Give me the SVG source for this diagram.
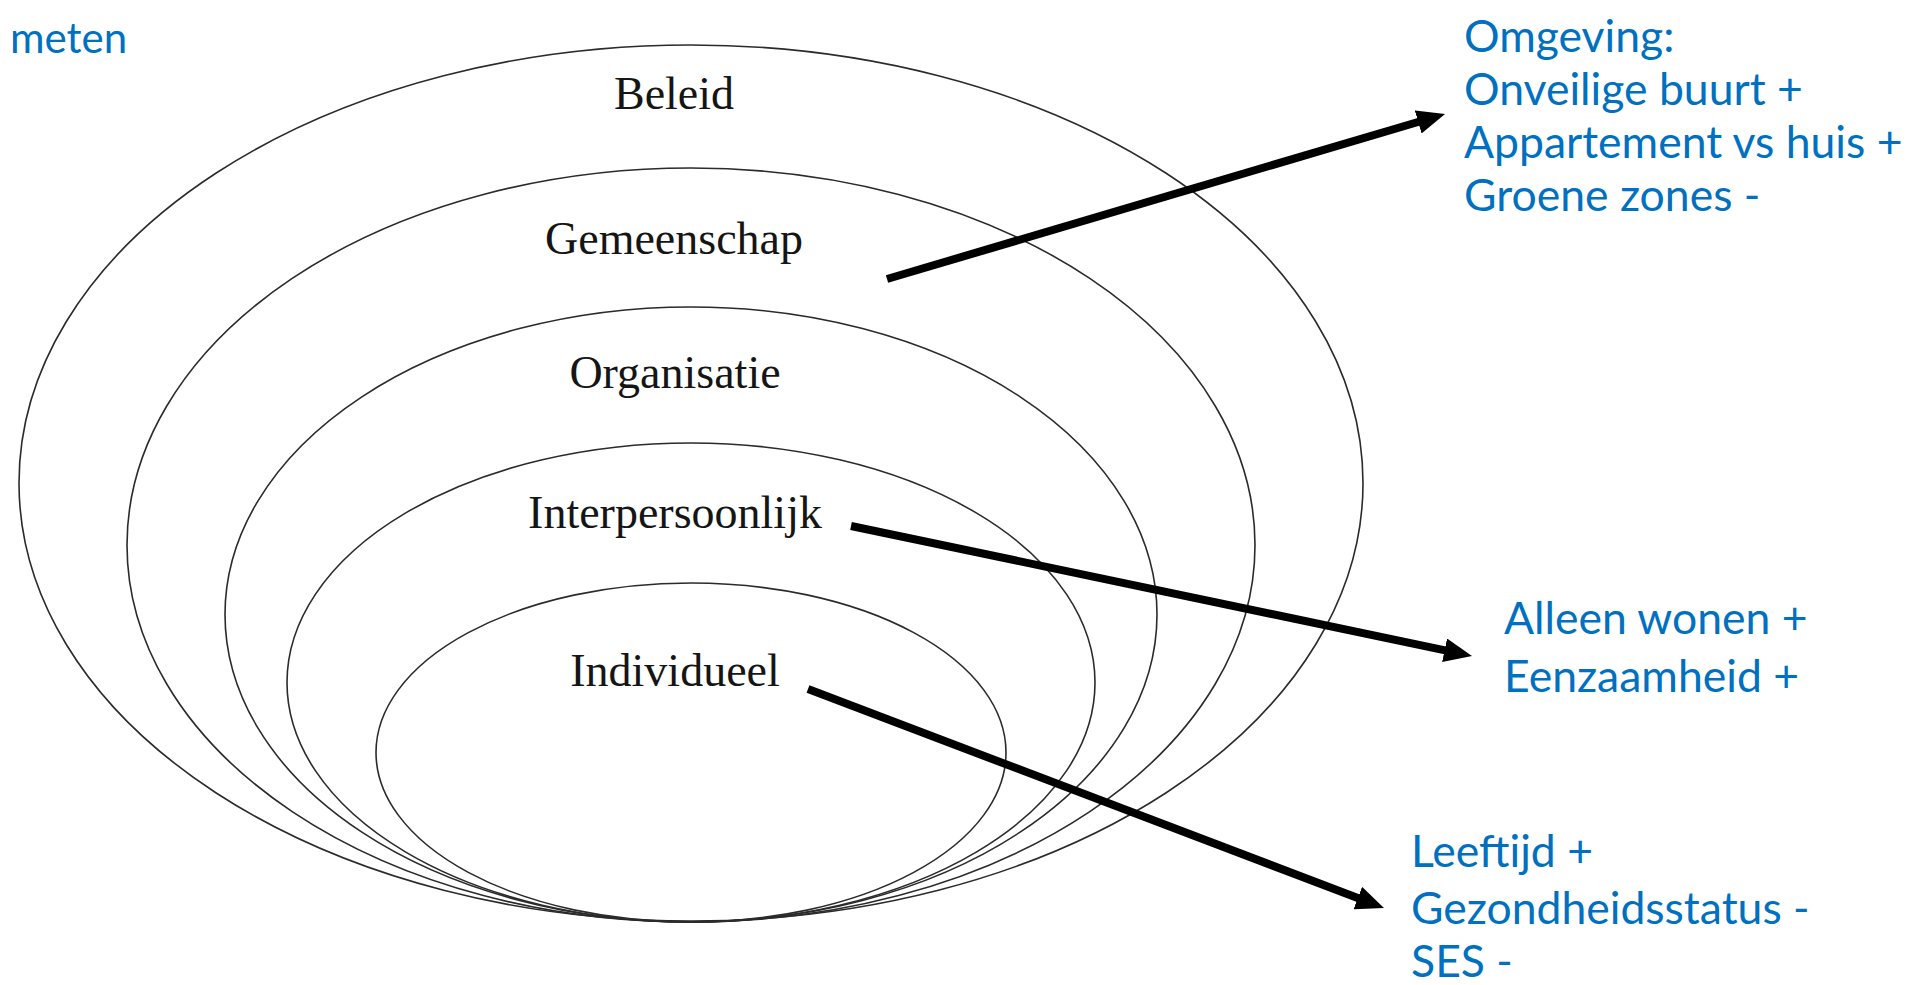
<svg xmlns="http://www.w3.org/2000/svg" width="1929" height="985" viewBox="0 0 1929 985">
  <style>
    .ring { fill: none; stroke: #2b2b2b; stroke-width: 1.6; }
    .level { font-family: "Liberation Serif", "Times New Roman", serif; font-size: 46px; fill: #151515; text-anchor: middle; }
    .note { font-family: Lato, "Open Sans", "Liberation Sans", sans-serif; font-size: 44.5px; fill: #0070C0; }
    .link { stroke: #000; stroke-width: 8; fill: none; marker-end: url(#head); }
  </style>
  <defs>
    <marker id="head" markerUnits="userSpaceOnUse" viewBox="0 0 28 24" markerWidth="28" markerHeight="24" refX="14" refY="12" orient="auto">
      <path d="M0,0 L28,12 L0,24 Z" fill="#000"/>
    </marker>
  </defs>

  <rect width="1929" height="985" fill="#fff"/>

  <!-- nested levels, all touching at the bottom point -->
  <g id="beleid">
    <ellipse class="ring" cx="691" cy="483" rx="672" ry="438"/>
    <text class="level" x="674" y="109">Beleid</text>
  </g>
  <g id="gemeenschap">
    <ellipse class="ring" cx="691" cy="545" rx="564" ry="377"/>
    <text class="level" x="674" y="254">Gemeenschap</text>
  </g>
  <g id="organisatie">
    <ellipse class="ring" cx="691" cy="614.5" rx="466" ry="307.5"/>
    <text class="level" x="675" y="388">Organisatie</text>
  </g>
  <g id="interpersoonlijk">
    <ellipse class="ring" cx="691" cy="682.5" rx="404" ry="239.5"/>
    <text class="level" x="675" y="528">Interpersoonlijk</text>
  </g>
  <g id="individueel">
    <ellipse class="ring" cx="691" cy="752.5" rx="315" ry="169.5"/>
    <text class="level" x="675" y="686">Individueel</text>
  </g>

  <!-- factor annotations -->
  <g id="title-fragment">
    <text class="note" x="10" y="53" style="font-size:42px">meten</text>
  </g>
  <g id="omgeving">
    <text class="note" x="1464" y="52">Omgeving:</text>
    <text class="note" x="1464" y="105">Onveilige buurt +</text>
    <text class="note" x="1464" y="158">Appartement vs huis +</text>
    <text class="note" x="1464" y="211">Groene zones -</text>
  </g>
  <g id="sociaal">
    <text class="note" x="1504" y="634">Alleen wonen +</text>
    <text class="note" x="1504" y="692">Eenzaamheid +</text>
  </g>
  <g id="persoon">
    <text class="note" x="1411" y="867">Leeftijd +</text>
    <text class="note" x="1411" y="924">Gezondheidsstatus -</text>
    <text class="note" x="1411" y="977">SES -</text>
  </g>

  <g id="connectors">
    <line class="link" x1="887" y1="279" x2="1431.6" y2="118"/>
    <line class="link" x1="851" y1="526" x2="1458.3" y2="653.1"/>
    <line class="link" x1="808" y1="689" x2="1370.9" y2="903"/>
  </g>
</svg>
